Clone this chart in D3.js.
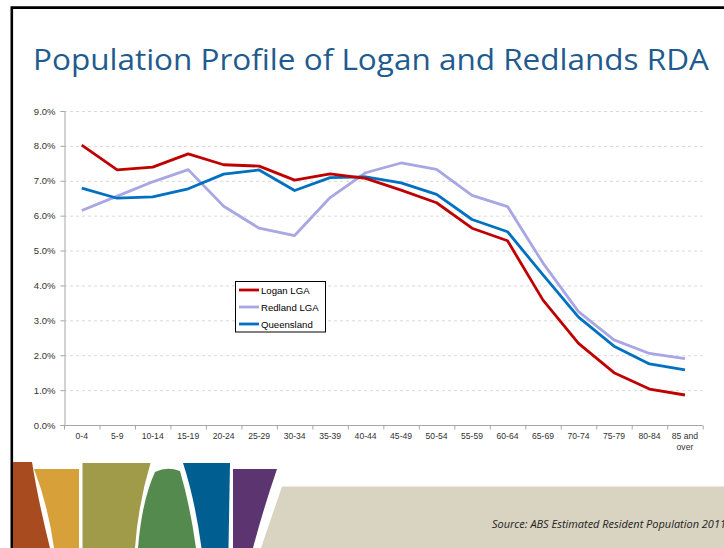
<!DOCTYPE html>
<html>
<head>
<meta charset="utf-8">
<script src="https://cdn.jsdelivr.net/npm/d3@7"></script>
<style>
  html, body { margin: 0; padding: 0; background: #fff; }
  svg { display: block; }
</style>
</head>
<body>
<svg id="chart" width="724" height="548"></svg>
<script>
// ---- data ----
const categories = ["0-4","5-9","10-14","15-19","20-24","25-29","30-34","35-39","40-44","45-49","50-54","55-59","60-64","65-69","70-74","75-79","80-84","85 and over"];
const loganLGA   = [8.02, 7.31, 7.39, 7.77, 7.46, 7.42, 7.02, 7.20, 7.07, 6.73, 6.37, 5.64, 5.28, 3.58, 2.34, 1.50, 1.03, 0.86];
const redlandLGA = [6.15, 6.56, 6.97, 7.32, 6.27, 5.64, 5.43, 6.52, 7.23, 7.51, 7.33, 6.58, 6.26, 4.64, 3.25, 2.44, 2.05, 1.90];
const queensland = [6.79, 6.50, 6.54, 6.77, 7.19, 7.31, 6.72, 7.09, 7.11, 6.94, 6.61, 5.89, 5.54, 4.30, 3.09, 2.26, 1.75, 1.58];
const seriesNames = ["Logan LGA", "Redland LGA", "Queensland"];
const yTicks = [0, 1, 2, 3, 4, 5, 6, 7, 8, 9];
const titleText = "Population Profile of Logan and Redlands RDA";
const sourceText = "Source: ABS Estimated Resident Population 2011";

const series = [
  { name: seriesNames[0], values: loganLGA,   color: "#C00000" },
  { name: seriesNames[1], values: redlandLGA, color: "#A9A6E4" },
  { name: seriesNames[2], values: queensland, color: "#0070C0" }
];

const svg = d3.select("#chart");

// ---- frame ----
svg.append("path")
  .attr("d", "M11.8,548 L11.8,7.6 L724,7.6")
  .attr("fill", "none").attr("stroke", "#000").attr("stroke-width", 2.6);

// ---- title ----
svg.append("text")
  .attr("x", 33).attr("y", 70)
  .attr("font-family", "'Open Sans', sans-serif")
  .attr("font-size", 29)
  .attr("fill", "#1F5B8E")
  .attr("textLength", 676).attr("lengthAdjust", "spacingAndGlyphs")
  .text(titleText);

// ---- scales ----
const x = d3.scaleBand().domain(categories).range([64, 702.7]).paddingInner(0).paddingOuter(0);
const y = d3.scaleLinear().domain([0, 9]).range([425, 111]);

// gridlines
svg.append("g").selectAll("line")
  .data(yTicks.filter(t => t > 0))
  .join("line")
  .attr("x1", 64).attr("x2", 702.7)
  .attr("y1", d => y(d) + 0.5).attr("y2", d => y(d) + 0.5)
  .attr("stroke", "#D9D9D9").attr("stroke-width", 1).attr("stroke-dasharray", "3,3");

// y axis
const yAxis = svg.append("g")
  .attr("transform", "translate(64.5,0)")
  .call(d3.axisLeft(y).tickValues(yTicks).tickSize(4).tickPadding(5)
        .tickFormat(d => d.toFixed(1) + "%"));
yAxis.select(".domain").attr("stroke", "#A6A6A6");
yAxis.selectAll(".tick line").attr("stroke", "#A6A6A6");
yAxis.selectAll(".tick text")
  .attr("font-family", "'Liberation Sans', Arial, sans-serif")
  .attr("font-size", 9.5).attr("fill", "#333");

// x axis line and ticks at band boundaries
svg.append("line")
  .attr("x1", 64).attr("x2", 702.7).attr("y1", 425.5).attr("y2", 425.5)
  .attr("stroke", "#A6A6A6");
const boundaries = categories.map(c => x(c)).concat([x.range()[1]]);
svg.append("g").selectAll("line")
  .data(boundaries).join("line")
  .attr("x1", d => d + 0.5).attr("x2", d => d + 0.5)
  .attr("y1", 425.5).attr("y2", 429.5)
  .attr("stroke", "#A6A6A6");

// x labels
const xl = svg.append("g").selectAll("text")
  .data(categories).join("text")
  .attr("x", d => x(d) + x.bandwidth() / 2)
  .attr("y", 439)
  .attr("text-anchor", "middle")
  .attr("font-family", "'Liberation Sans', Arial, sans-serif")
  .attr("font-size", 8.6).attr("fill", "#333");
xl.each(function(d) {
  const t = d3.select(this);
  if (d === "85 and over") {
    t.append("tspan").attr("x", x(d) + x.bandwidth() / 2).attr("dy", 0).text("85 and");
    t.append("tspan").attr("x", x(d) + x.bandwidth() / 2).attr("dy", 10.5).text("over");
  } else {
    t.text(d);
  }
});

// lines
const line = d3.line()
  .x((d, i) => x(categories[i]) + x.bandwidth() / 2)
  .y(d => y(d));
svg.append("g").selectAll("path")
  .data([series[1], series[2], series[0]].reverse().reverse())
  .join("path")
  .attr("d", d => line(d.values))
  .attr("fill", "none")
  .attr("stroke", d => d.color)
  .attr("stroke-width", 2.8)
  .attr("stroke-linejoin", "round");

// legend
const lg = svg.append("g");
lg.append("rect")
  .attr("x", 235.5).attr("y", 281.5).attr("width", 90).attr("height", 50.5)
  .attr("fill", "#fff").attr("stroke", "#000").attr("stroke-width", 1);
series.forEach((s, i) => {
  const yy = 290 + i * 17;
  lg.append("line").attr("x1", 239).attr("x2", 259).attr("y1", yy).attr("y2", yy)
    .attr("stroke", s.color).attr("stroke-width", 2.8);
  lg.append("text").attr("x", 261).attr("y", yy + 3.5)
    .attr("font-family", "'Liberation Sans', Arial, sans-serif")
    .attr("font-size", 9.6).attr("fill", "#000")
    .text(s.name);
});

// ---- bottom decoration ----
const deco = svg.append("g");
const shapes = [
  { c: "#A84B1F", d: "M13,462 L32,462 Q38,500 50,548 L13,548 Z" },
  { c: "#D7A039", d: "M34,469 L79,469 L79,548 L54,548 Q48,505 34,469 Z" },
  { c: "#A09B49", d: "M82.5,463 L150.5,463 Q138,505 135,548 L82.5,548 Z" },
  { c: "#558A4E", d: "M138,548 Q142,500 155,472 Q167,466 180,471 Q190,505 196,548 Z" },
  { c: "#005F90", d: "M183,463 L230,463 L228.5,548 L201.5,548 Q195,500 183,463 Z" },
  { c: "#5B3470", d: "M233,469 L277,469 Q263,510 253,548 L233,548 Z" },
  { c: "#D9D3C1", d: "M282,486.5 L724,486.5 L724,548 L261,548 Z" }
];
deco.selectAll("path").data(shapes).join("path")
  .attr("d", d => d.d).attr("fill", d => d.c);

// source
svg.append("text")
  .attr("x", 492).attr("y", 528)
  .attr("font-family", "'Open Sans', sans-serif")
  .attr("font-style", "italic")
  .attr("font-size", 10)
  .attr("fill", "#222")
  .attr("textLength", 234).attr("lengthAdjust", "spacingAndGlyphs")
  .text(sourceText);
</script>
</body>
</html>
